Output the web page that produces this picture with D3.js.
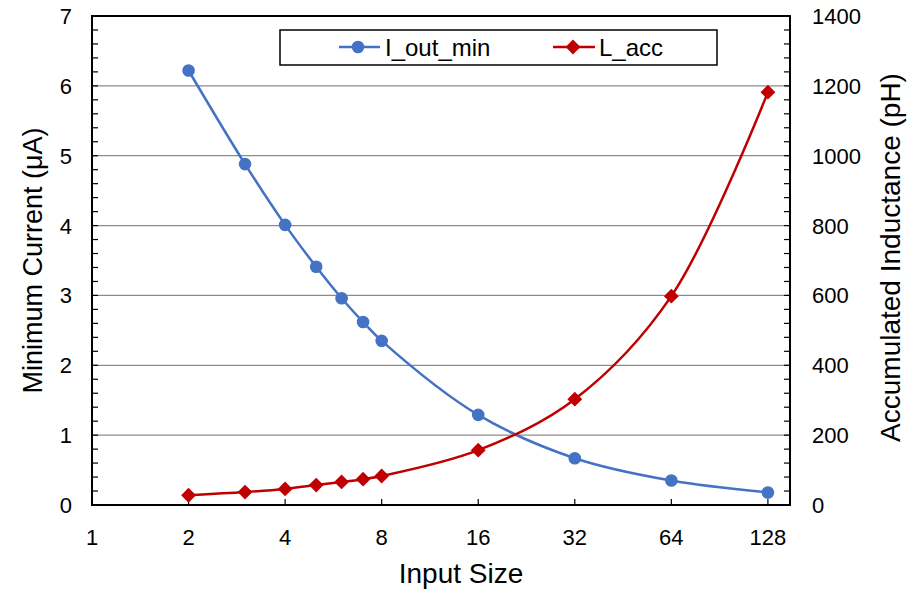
<!DOCTYPE html>
<html><head><meta charset="utf-8">
<script src="https://cdn.jsdelivr.net/npm/d3@7"></script>
<style>body{margin:0;background:#fff;} text{font-family:"Liberation Sans",Arial,sans-serif;fill:#000;}</style>
</head><body><svg id="c" width="908" height="589"></svg>
<script>
const inputSize = [2,3,4,5,6,7,8,16,32,64,128];
const iOutMin = [6.22,4.88,4.01,3.41,2.96,2.62,2.35,1.29,0.67,0.35,0.18];
const lAcc = [28,37,46,57,66,74,83,157,303,598,1182];
const xTicks = [1,2,4,8,16,32,64,128];
const leftTicks = [0,1,2,3,4,5,6,7];
const rightTicks = [0,200,400,600,800,1000,1200,1400];

const svg = d3.select("#c");
const L=92, R=790, T=16, B=505;
const x = d3.scaleLog().base(2).domain([1,150]).range([L,R]);
const yL = d3.scaleLinear().domain([0,7]).range([B,T]);
const yR = d3.scaleLinear().domain([0,1400]).range([B,T]);

// gridlines
svg.append("g").selectAll("line").data(leftTicks.slice(1,-1)).join("line")
  .attr("x1",L).attr("x2",R).attr("y1",d=>yL(d)).attr("y2",d=>yL(d))
  .attr("stroke","#8c8c8c").attr("stroke-width",1.2);

// minor ticks
const minorL = d3.range(0,7.0001,0.2);
svg.append("g").selectAll("line").data(minorL).join("line")
  .attr("x1",L).attr("x2",L+6).attr("y1",d=>yL(d)).attr("y2",d=>yL(d))
  .attr("stroke","#000").attr("stroke-width",1.2);
const minorR = d3.range(0,1400.001,40);
svg.append("g").selectAll("line").data(minorR).join("line")
  .attr("x1",R).attr("x2",R-6).attr("y1",d=>yR(d)).attr("y2",d=>yR(d))
  .attr("stroke","#000").attr("stroke-width",1.2);
svg.append("g").selectAll("line").data(xTicks).join("line")
  .attr("x1",d=>x(d)).attr("x2",d=>x(d)).attr("y1",B).attr("y2",B-6)
  .attr("stroke","#000").attr("stroke-width",1.2);

// frame
svg.append("rect").attr("x",L).attr("y",T).attr("width",R-L).attr("height",B-T)
  .attr("fill","none").attr("stroke","#000").attr("stroke-width",2);

// tick labels
svg.append("g").selectAll("text").data(leftTicks).join("text")
  .attr("x",L-20).attr("y",d=>yL(d)+8).attr("text-anchor","end").attr("font-size",22).text(d=>d);
svg.append("g").selectAll("text").data(rightTicks).join("text")
  .attr("x",R+22).attr("y",d=>yR(d)+8).attr("text-anchor","start").attr("font-size",22).text(d=>d);
svg.append("g").selectAll("text").data(xTicks).join("text")
  .attr("x",d=>x(d)).attr("y",B+40).attr("text-anchor","middle").attr("font-size",22).text(d=>d);

// axis titles
svg.append("text").attr("transform",`translate(461,583)`).attr("text-anchor","middle").attr("font-size",28).text("Input Size");
svg.append("text").attr("transform",`translate(42,${(T+B)/2}) rotate(-90)`).attr("text-anchor","middle").attr("font-size",27).text("Minimum Current (μA)");
svg.append("text").attr("transform",`translate(900,${(T+B)/2-3}) rotate(-90)`).attr("text-anchor","middle").attr("font-size",28).text("Accumulated Inductance (pH)");

const blue="#4472C4", red="#C00000";
const lineL = d3.line().x((d,i)=>x(inputSize[i])).y(d=>yL(d)).curve(d3.curveCatmullRom.alpha(0.5));
const lineR = d3.line().x((d,i)=>x(inputSize[i])).y(d=>yR(d)).curve(d3.curveCatmullRom.alpha(0.5));
svg.append("path").attr("d",lineL(iOutMin)).attr("fill","none").attr("stroke",blue).attr("stroke-width",2.5);
svg.append("path").attr("d",lineR(lAcc)).attr("fill","none").attr("stroke",red).attr("stroke-width",2.5);
svg.append("g").selectAll("circle").data(iOutMin).join("circle")
  .attr("cx",(d,i)=>x(inputSize[i])).attr("cy",d=>yL(d)).attr("r",6.3).attr("fill",blue);
const sq = d3.symbol().type(d3.symbolSquare).size(110);
svg.append("g").selectAll("path").data(lAcc).join("path")
  .attr("transform",(d,i)=>`translate(${x(inputSize[i])},${yR(d)}) rotate(45)`)
  .attr("d",sq).attr("fill",red);

// legend
const lg = svg.append("g");
lg.append("rect").attr("x",280).attr("y",30).attr("width",437).attr("height",35).attr("fill","#fff").attr("stroke","#000").attr("stroke-width",1.5);
lg.append("line").attr("x1",339).attr("x2",380).attr("y1",47).attr("y2",47).attr("stroke",blue).attr("stroke-width",2.5);
lg.append("circle").attr("cx",358).attr("cy",47).attr("r",6.3).attr("fill",blue);
lg.append("text").attr("x",385).attr("y",56).attr("font-size",24).text("I_out_min");
lg.append("line").attr("x1",553).attr("x2",595).attr("y1",47).attr("y2",47).attr("stroke",red).attr("stroke-width",2.5);
lg.append("path").attr("transform","translate(573,47) rotate(45)").attr("d",sq).attr("fill",red);
lg.append("text").attr("x",599).attr("y",56).attr("font-size",24).text("L_acc");
</script></body></html>
